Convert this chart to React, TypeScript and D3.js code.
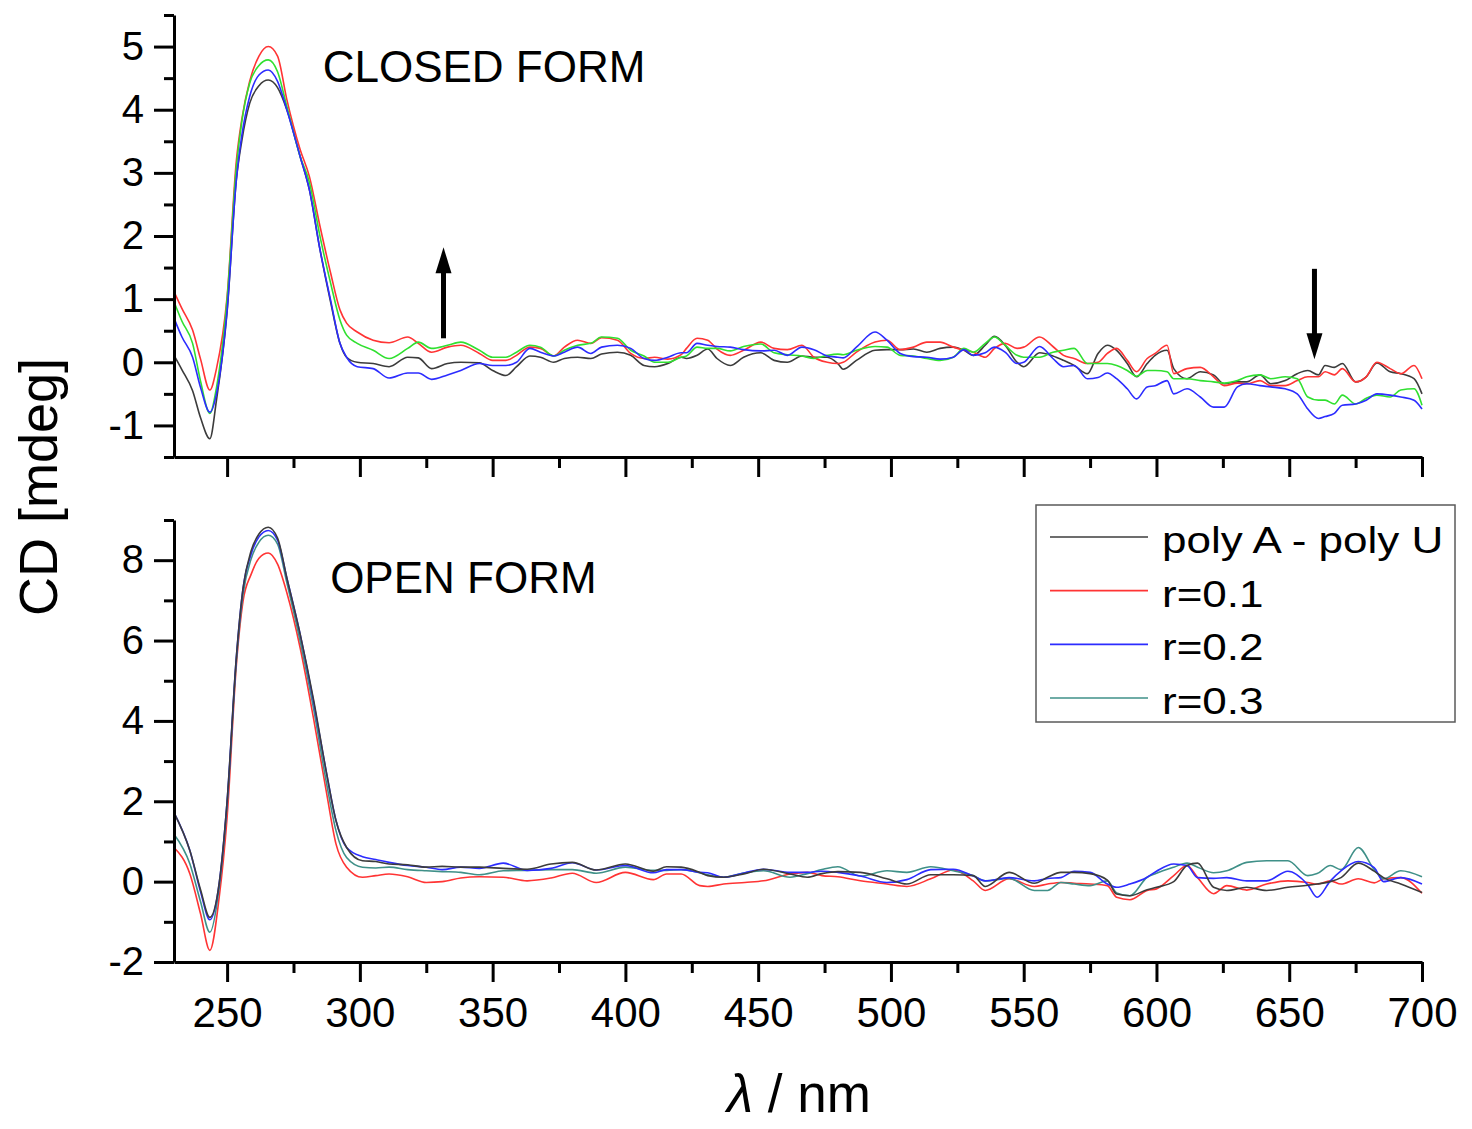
import React from 'react';
import * as d3 from 'd3';

const useD3 = (renderChart: any, dependencies: any[]) => {
  const ref = React.useRef<SVGSVGElement>(null);
  React.useEffect(() => {
    renderChart(d3.select(ref.current));
  }, dependencies);
  return ref;
};

const WIDTH = 1472;
const HEIGHT = 1129;
const FONT = 'Liberation Sans, Arial, Helvetica, sans-serif';

// ---- CLOSED FORM (top panel) ----
const closedWl = [
  230, 233, 237, 240, 243.5, 246, 250, 253.5, 255.5, 258.5,
  262, 265.5, 269, 272.5, 277.5, 281, 285, 289, 292.5, 295,
  299, 305, 311, 318, 322, 327, 333, 338, 345, 350,
  355, 359, 364, 368, 373, 377, 382, 387, 391, 397,
  402, 407, 411, 416, 421, 423, 427, 431, 434.5, 439.5,
  444.5, 451, 456, 461, 466.5, 471, 476, 480, 482, 487,
  494, 498.5, 503.5, 508.5, 513.5, 518.5, 523.5, 527.5, 531, 535.5,
  539, 543, 547.5, 550, 556, 561, 565, 569, 574, 578,
  581.5, 585, 589, 592.5, 596.5, 599.5, 604, 606.5, 611.5, 616.5,
  621.5, 625.5, 630.5, 634, 639, 643, 648.5, 653, 657, 661,
  663.5, 667, 670, 675, 679, 683, 688, 692, 697, 700,
];
const closedPolyAU = [
  0.11, -0.12, -0.45, -0.88, -1.21, -0.6, 0.8, 2.9, 3.5, 4.1,
  4.38, 4.47, 4.35, 4.0, 3.26, 2.73, 1.78, 0.95, 0.3, 0.08,
  0.0, -0.02, -0.07, 0.08, 0.07, -0.1, -0.02, 0.0, -0.01, -0.13,
  -0.21, -0.07, 0.1, 0.08, 0.0, 0.06, 0.08, 0.06, 0.13, 0.16,
  0.11, -0.05, -0.07, -0.02, 0.08, 0.06, 0.11, 0.21, 0.06, -0.05,
  0.08, 0.15, 0.03, 0.0, 0.1, 0.08, 0.08, -0.02, -0.11, 0.03,
  0.19, 0.2, 0.2, 0.21, 0.16, 0.22, 0.24, 0.19, 0.11, 0.27,
  0.41, 0.27, 0.0, -0.07, 0.15, 0.1, 0.03, -0.05, -0.18, 0.14,
  0.27, 0.19, -0.02, -0.23, -0.02, 0.11, 0.19, -0.1, -0.26, -0.15,
  -0.2, -0.34, -0.31, -0.31, -0.2, -0.34, -0.29, -0.18, -0.13, -0.2,
  -0.05, -0.08, -0.02, -0.31, -0.23, -0.01, -0.15, -0.18, -0.26, -0.5,
];
const closedR01 = [
  1.12, 0.85, 0.51, 0.05, -0.44, -0.1, 1.04, 3.2, 3.84, 4.45,
  4.85, 5.0, 4.85, 4.16, 3.37, 2.94, 2.15, 1.41, 0.83, 0.62,
  0.48, 0.35, 0.31, 0.4, 0.3, 0.16, 0.24, 0.27, 0.14, 0.03,
  0.03, 0.11, 0.24, 0.22, 0.1, 0.24, 0.35, 0.3, 0.39, 0.35,
  0.14, 0.06, 0.08, 0.05, 0.12, 0.22, 0.38, 0.35, 0.21, 0.11,
  0.19, 0.32, 0.22, 0.2, 0.27, 0.08, 0.0, -0.02, 0.0, 0.16,
  0.32, 0.35, 0.2, 0.24, 0.32, 0.32, 0.24, 0.19, 0.16, 0.08,
  0.22, 0.3, 0.22, 0.24, 0.4, 0.25, 0.11, 0.06, -0.02, 0.0,
  0.14, 0.22, 0.03, -0.15, 0.06, 0.14, 0.27, -0.18, -0.1, -0.08,
  -0.23, -0.37, -0.33, -0.34, -0.29, -0.37, -0.37, -0.29, -0.23, -0.23,
  -0.15, -0.2, -0.1, -0.31, -0.23, 0.0, -0.1, -0.18, -0.05, -0.26,
];
const closedR02 = [
  0.7, 0.4, 0.08, -0.4, -0.79, -0.5, 0.83, 2.9, 3.58, 4.21,
  4.55, 4.63, 4.45, 4.0, 3.26, 2.73, 1.78, 0.98, 0.3, 0.08,
  -0.07, -0.1, -0.25, -0.17, -0.17, -0.27, -0.2, -0.13, -0.02, -0.05,
  -0.05, 0.0, 0.22, 0.16, 0.1, 0.16, 0.24, 0.14, 0.24, 0.27,
  0.22, 0.06, 0.03, 0.08, 0.15, 0.15, 0.3, 0.27, 0.25, 0.24,
  0.2, 0.18, 0.19, 0.11, 0.24, 0.2, 0.1, 0.08, 0.07, 0.24,
  0.48, 0.35, 0.14, 0.09, 0.08, 0.05, 0.08, 0.2, 0.11, 0.15,
  0.24, 0.16, -0.02, 0.0, 0.25, 0.06, -0.07, -0.05, -0.26, -0.24,
  -0.17, -0.26, -0.42, -0.58, -0.39, -0.37, -0.29, -0.5, -0.42, -0.55,
  -0.71, -0.71, -0.39, -0.34, -0.37, -0.39, -0.42, -0.5, -0.74, -0.89,
  -0.86, -0.81, -0.68, -0.66, -0.6, -0.5, -0.52, -0.55, -0.6, -0.74,
];
const closedR03 = [
  0.96, 0.65, 0.3, -0.3, -0.81, -0.4, 1.0, 3.1, 3.8, 4.42,
  4.7, 4.79, 4.6, 4.05, 3.26, 2.85, 1.99, 1.25, 0.67, 0.43,
  0.3, 0.19, 0.06, 0.22, 0.32, 0.22, 0.27, 0.32, 0.19, 0.08,
  0.08, 0.16, 0.27, 0.24, 0.1, 0.19, 0.27, 0.3, 0.4, 0.38,
  0.19, 0.1, 0.0, 0.0, 0.08, 0.1, 0.24, 0.22, 0.22, 0.18,
  0.25, 0.29, 0.15, 0.12, 0.1, 0.06, 0.11, 0.13, 0.12, 0.19,
  0.25, 0.24, 0.11, 0.1, 0.06, 0.03, 0.08, 0.22, 0.16, 0.3,
  0.4, 0.27, 0.11, 0.08, 0.08, 0.16, 0.19, 0.22, -0.02, -0.02,
  -0.02, -0.05, -0.13, -0.22, -0.13, -0.13, -0.15, -0.26, -0.26, -0.29,
  -0.31, -0.33, -0.29, -0.23, -0.2, -0.26, -0.23, -0.26, -0.55, -0.6,
  -0.6, -0.66, -0.52, -0.66, -0.57, -0.52, -0.55, -0.44, -0.42, -0.68,
];

// ---- OPEN FORM (bottom panel) ----
const openWl = [
  230, 236, 240, 243.5, 247, 250, 253.5, 256, 259, 262,
  265.5, 269, 272.5, 277.5, 282.5, 287.5, 291, 295, 301, 306,
  311, 318, 325, 331, 338, 345, 354, 363, 372, 380,
  389, 400, 410.5, 415.5, 421, 428, 431, 437, 445, 452,
  462, 468.5, 474, 480, 488.5, 498.5, 506, 515, 523.5, 531,
  535.5, 544.5, 554, 559, 564, 569, 575, 581.5, 585, 590,
  596.5, 600, 606.5, 611.5, 615.5, 621.5, 626.5, 634, 641.5, 649.5,
  657, 660.5, 665.5, 669.5, 676, 682, 685.5, 692, 700,
];
const openPolyAU = [
  1.72, 0.77, -0.2, -0.89, -0.05, 2.0, 5.6, 7.3, 8.22, 8.65,
  8.82, 8.55, 7.56, 6.16, 4.55, 2.68, 1.52, 0.85, 0.52, 0.5,
  0.44, 0.42, 0.36, 0.38, 0.36, 0.36, 0.33, 0.31, 0.44, 0.48,
  0.29, 0.44, 0.26, 0.37, 0.36, 0.23, 0.15, 0.11, 0.2, 0.31,
  0.19, 0.11, 0.2, 0.25, 0.23, 0.07, -0.06, 0.17, 0.17, 0.15,
  -0.12, 0.23, -0.04, 0.11, 0.23, 0.23, 0.2, 0.04, -0.31, -0.35,
  -0.2, -0.14, 0.0, 0.4, 0.46, -0.14, -0.22, -0.14, -0.22, -0.14,
  -0.09, -0.06, 0.0, 0.1, 0.46, 0.26, 0.1, -0.06, -0.27,
];
const openR01 = [
  0.85, 0.19, -0.8, -1.71, -0.4, 1.6, 5.4, 6.98, 7.64, 8.05,
  8.18, 7.9, 7.19, 5.82, 4.08, 2.19, 0.94, 0.36, 0.11, 0.15,
  0.19, 0.12, -0.02, 0.0, 0.09, 0.12, 0.11, 0.02, 0.09, 0.21,
  -0.02, 0.23, 0.05, 0.19, 0.19, -0.1, -0.12, -0.06, -0.02, 0.02,
  0.19, 0.23, 0.15, 0.12, 0.02, -0.06, -0.12, 0.07, 0.29, 0.02,
  -0.22, 0.07, -0.12, -0.06, -0.02, -0.04, -0.06, -0.1, -0.39, -0.45,
  -0.22, -0.18, 0.15, 0.4, 0.1, -0.3, -0.1, -0.21, -0.06, 0.02,
  -0.02, -0.06, 0.02, -0.06, 0.07, -0.03, 0.07, 0.1, -0.29,
];
const openR02 = [
  1.72, 0.77, -0.25, -0.95, -0.05, 2.0, 5.6, 7.3, 8.14, 8.58,
  8.74, 8.5, 7.56, 6.16, 4.5, 2.68, 1.52, 0.85, 0.62, 0.55,
  0.48, 0.4, 0.36, 0.3, 0.36, 0.33, 0.46, 0.28, 0.33, 0.47,
  0.29, 0.4, 0.22, 0.3, 0.3, 0.23, 0.22, 0.11, 0.22, 0.31,
  0.23, 0.23, 0.26, 0.23, 0.14, -0.02, 0.05, 0.3, 0.31, 0.14,
  0.02, 0.1, 0.02, 0.08, 0.1, 0.26, 0.23, -0.06, -0.14, -0.06,
  0.11, 0.26, 0.44, 0.4, 0.1, 0.08, 0.1, 0.02, 0.02, 0.26,
  -0.08, -0.39, 0.02, 0.27, 0.5, 0.35, 0.0, 0.1, -0.06,
];
const openR03 = [
  1.18, 0.44, -0.5, -1.26, -0.15, 1.9, 5.5, 7.15, 8.02, 8.45,
  8.62, 8.4, 7.44, 5.99, 4.33, 2.43, 1.27, 0.6, 0.36, 0.34,
  0.36, 0.3, 0.27, 0.25, 0.23, 0.17, 0.27, 0.28, 0.3, 0.3,
  0.21, 0.36, 0.28, 0.28, 0.3, 0.22, 0.17, 0.11, 0.22, 0.27,
  0.11, 0.2, 0.3, 0.37, 0.14, 0.27, 0.23, 0.37, 0.27, 0.15,
  0.02, 0.08, -0.22, -0.22, -0.02, -0.06, -0.1, 0.02, -0.28, -0.35,
  0.11, 0.21, 0.36, 0.46, 0.36, 0.22, 0.27, 0.48, 0.52, 0.52,
  0.15, 0.2, 0.4, 0.3, 0.85, 0.3, 0.07, 0.27, 0.12,
];

const seriesNames = ['poly A - poly U', 'r=0.1', 'r=0.2', 'r=0.3'];
const closedColors = ['#3c3c3c', '#ff3434', '#2c2cff', '#30e030'];
const openColors = ['#3c3c3c', '#ff3434', '#2c2cff', '#3f9088'];

const xMajor = [250, 300, 350, 400, 450, 500, 550, 600, 650, 700];
const xMinor = [275, 325, 375, 425, 475, 525, 575, 625, 675];
const closedYMajor = [-1, 0, 1, 2, 3, 4, 5];
const closedYMinor = [-1.5, -0.5, 0.5, 1.5, 2.5, 3.5, 4.5, 5.5];
const openYMajor = [-2, 0, 2, 4, 6, 8];
const openYMinor = [-1, 1, 3, 5, 7, 9];

// arrows: [wavelength, from, to]
const closedArrows = [[331.5, 0.38, 1.82], [659.5, 1.48, 0.05]];

const styleAxis = (g: any, fontSize: number) => {
  g.attr('font-family', FONT).attr('font-size', fontSize);
  g.selectAll('path.domain').attr('stroke', '#000').attr('stroke-width', 3);
  g.selectAll('line').attr('stroke', '#000').attr('stroke-width', 3);
  g.selectAll('text').attr('fill', '#000');
};

const renderChart = (svg: any) => {
  svg.selectAll('*').remove();

  const xScale = d3.scaleLinear().domain([230, 700]).range([174, 1422]);

  const panels = [
    {
      y: d3.scaleLinear().domain([-1.5, 5.5]).range([457, 15]),
      major: closedYMajor,
      minor: closedYMinor,
      wl: closedWl,
      series: [closedPolyAU, closedR01, closedR03, closedR02],
      colors: [closedColors[0], closedColors[1], closedColors[3], closedColors[2]],
      label: 'CLOSED FORM',
      labelAt: [286, 4.44],
      xLabels: false,
    },
    {
      y: d3.scaleLinear().domain([-2, 9]).range([962, 520]),
      major: openYMajor,
      minor: openYMinor,
      wl: openWl,
      series: [openR01, openR03, openR02, openPolyAU],
      colors: [openColors[1], openColors[3], openColors[2], openColors[0]],
      label: 'OPEN FORM',
      labelAt: [288.8, 7.18],
      xLabels: true,
    },
  ];

  panels.forEach((p, pi) => {
    const y0 = p.y.range()[0];
    const plot = svg.append('g').attr('class', `panel-${pi}`);

    // curves
    const line = d3
      .line<number>()
      .x((_, i) => xScale(p.wl[i]))
      .y((d) => p.y(d))
      .curve(d3.curveMonotoneX);

    plot
      .selectAll('.curve')
      .data(p.series)
      .join('path')
      .attr('class', 'curve')
      .attr('fill', 'none')
      .attr('stroke', (_: any, i: number) => p.colors[i])
      .attr('stroke-width', 1.6)
      .attr('stroke-linejoin', 'round')
      .attr('d', (d: number[]) => line(d));

    // y axis
    const yMinorG = plot.append('g').attr('transform', `translate(${xScale(230)},0)`)
      .call(d3.axisLeft(p.y).tickValues(p.minor).tickSize(10).tickFormat(() => ''));
    yMinorG.select('path.domain').remove();
    styleAxis(yMinorG, 40);

    const yMajorG = plot.append('g').attr('transform', `translate(${xScale(230)},0)`)
      .call(d3.axisLeft(p.y).tickValues(p.major).tickSizeInner(20).tickSizeOuter(0)
        .tickPadding(10).tickFormat((d: any) => String(d)));
    styleAxis(yMajorG, 40);

    // x axis
    const xMinorG = plot.append('g').attr('transform', `translate(0,${y0})`)
      .call(d3.axisBottom(xScale).tickValues(xMinor).tickSize(11).tickFormat(() => ''));
    xMinorG.select('path.domain').remove();
    styleAxis(xMinorG, 42);

    const xMajorG = plot.append('g').attr('transform', `translate(0,${y0})`)
      .call(d3.axisBottom(xScale).tickValues(xMajor).tickSizeInner(20).tickSizeOuter(0)
        .tickPadding(15).tickFormat((d: any) => (p.xLabels ? String(d) : '')));
    styleAxis(xMajorG, 42);

    plot
      .append('text')
      .attr('x', xScale(p.labelAt[0]))
      .attr('y', p.y(p.labelAt[1]))
      .attr('font-family', FONT)
      .attr('font-size', 44)
      .attr('fill', '#000')
      .text(p.label);
  });

  // arrows in closed panel
  const yClosed = panels[0].y;
  const arrows = svg.append('g').attr('class', 'arrows');
  closedArrows.forEach(([wl, from, to]) => {
    const x = xScale(wl);
    const yFrom = yClosed(from);
    const yTo = yClosed(to);
    const dir = yTo < yFrom ? 1 : -1;
    const headLen = 26;
    arrows
      .append('line')
      .attr('x1', x).attr('x2', x)
      .attr('y1', yFrom).attr('y2', yTo + dir * (headLen - 2))
      .attr('stroke', '#000')
      .attr('stroke-width', 5);
    arrows
      .append('path')
      .attr('d', `M${x},${yTo}L${x - 8},${yTo + dir * headLen}L${x + 8},${yTo + dir * headLen}Z`)
      .attr('fill', '#000');
  });

  // legend
  const legend = svg.append('g').attr('class', 'legend');
  legend
    .append('rect')
    .attr('x', 1036).attr('y', 505)
    .attr('width', 419).attr('height', 217)
    .attr('fill', '#fff')
    .attr('stroke', '#5a5a5a')
    .attr('stroke-width', 1.5);
  const row = d3.scalePoint<string>().domain(seriesNames).range([537, 698]);
  seriesNames.forEach((name, i) => {
    const yy = row(name) as number;
    legend
      .append('line')
      .attr('x1', 1050).attr('x2', 1148)
      .attr('y1', yy).attr('y2', yy)
      .attr('stroke', openColors[i])
      .attr('stroke-width', 1.6);
    legend
      .append('text')
      .attr('transform', `translate(1162,${yy + 16}) scale(1.19,1)`)
      .attr('font-family', FONT)
      .attr('font-size', 37)
      .attr('fill', '#000')
      .text(name);
  });

  // axis titles
  svg
    .append('text')
    .attr('transform', 'translate(57,487) rotate(-90)')
    .attr('text-anchor', 'middle')
    .attr('font-family', FONT)
    .attr('font-size', 54)
    .attr('fill', '#000')
    .text('CD [mdeg]');

  const xt = svg
    .append('text')
    .attr('x', 799)
    .attr('y', 1112)
    .attr('text-anchor', 'middle')
    .attr('font-family', FONT)
    .attr('font-size', 53)
    .attr('fill', '#000');
  xt.append('tspan').attr('font-style', 'italic').text('λ');
  xt.append('tspan').text(' / nm');
};

const App: React.FC = () => {
  const ref = useD3(renderChart, []);
  return (
    <svg
      ref={ref}
      width={WIDTH}
      height={HEIGHT}
      style={{ position: 'absolute', left: 0, top: 0, background: '#fff' }}
    />
  );
};

export default App;
